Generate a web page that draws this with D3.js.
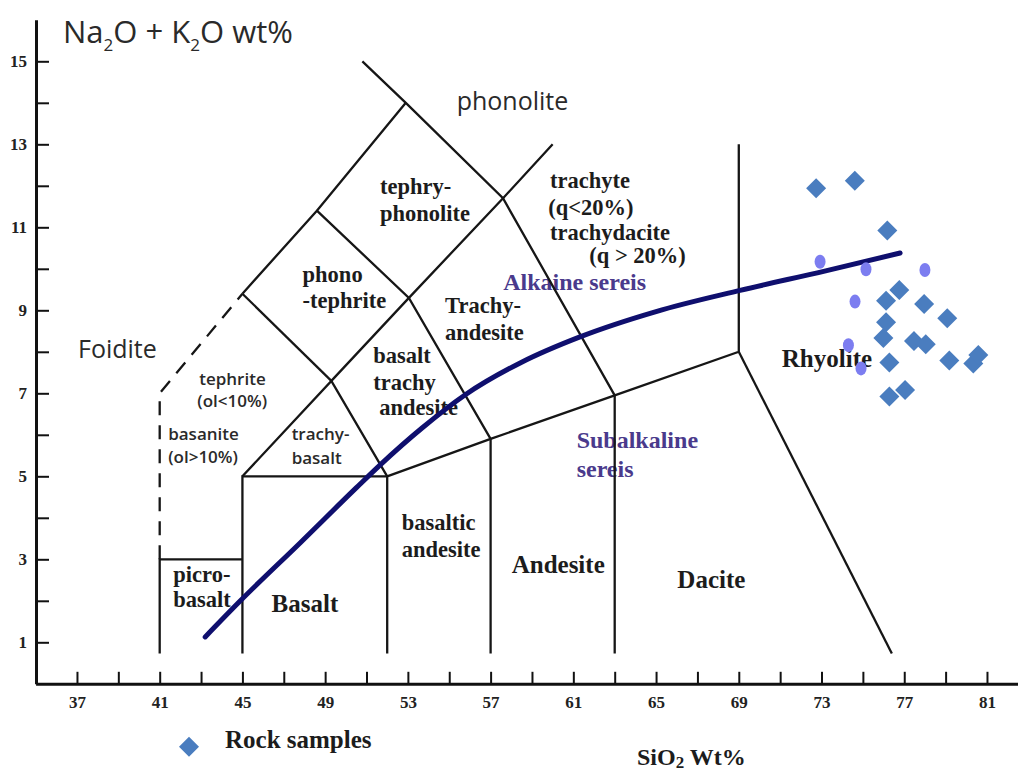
<!DOCTYPE html>
<html>
<head>
<meta charset="utf-8">
<script src="https://cdn.jsdelivr.net/npm/d3@7"></script>
<style>
  html, body { margin: 0; padding: 0; background: #ffffff; }
  svg { display: block; }
  .serif { font-family: "Liberation Serif", "Times New Roman", serif; font-weight: bold; fill: #1c1c1c; }
  .sans { font-family: "Open Sans", "Liberation Sans", sans-serif; fill: #2a2a2a; }
</style>
</head>
<body>
<svg id="chart" width="1018" height="772"></svg>
<script>
// ---------------- data ----------------
const xTickValues = [37,39,41,43,45,47,49,51,53,55,57,59,61,63,65,67,69,71,73,75,77,79,81];
const xTickLabels = [37,41,45,49,53,57,61,65,69,73,77,81];
const yTickValues = [1,2,3,4,5,6,7,8,9,10,11,12,13,14,15];
const yTickLabels = [1,3,5,7,9,11,13,15];

// rock samples (SiO2 wt%, Na2O+K2O wt%)
const sampleSiO2 = [72.74,74.61,76.18,76.76,76.12,77.96,79.08,76.12,75.99,77.47,78.04,79.18,76.28,80.34,80.58,76.28,77.04];
const sampleAlk  = [11.94,12.12,10.92, 9.49, 9.23, 9.15, 8.81, 8.71, 8.33, 8.26, 8.18, 7.79, 7.74, 7.72, 7.92, 6.92, 7.08];

// faint lavender marks visible in the picture
const faintSiO2 = [72.93,75.15,78.00,74.62,74.30,74.91];
const faintAlk  = [10.17, 9.99, 9.97, 9.21, 8.16, 7.60];

// alkaline / subalkaline dividing curve
const curveSiO2 = [43.2,44.9,47.8,50.5,51.65,53.7,55.76,58.5,61.32,65.0,69.06,73.2,76.8];
const curveAlk  = [1.13,2.00,3.40,4.72,5.27, 6.17,6.96, 7.75,8.36, 8.97,9.48, 9.95,10.38];

// TAS field boundaries (SiO2, alkali)
const solidBoundaries = [
  [[41,0.73],[41,3],[45,3]],
  [[45,0.73],[45,5],[52,5]],
  [[52,0.73],[52,5],[57,5.9],[63,6.95],[69,8],[69,13]],
  [[57,0.73],[57,5.9]],
  [[63,0.73],[63,6.95]],
  [[69,8],[76.4,0.73]],
  [[45,5],[49.3,7.3],[52,5]],
  [[45,9.4],[48.6,11.4],[52.9,14]],
  [[50.8,15],[52.9,14],[57.6,11.7],[63,6.95]],
  [[45,9.4],[49.3,7.3]],
  [[49.3,7.3],[53.05,9.3],[57.6,11.7],[60,13]],
  [[48.6,11.4],[53.05,9.3],[57,5.9]]
];
const dashedBoundary = [[41,3],[41,7],[45,9.4]];

// field names (text, SiO2, alkali)
const smallSerifLabels = [
  ["tephry-",51.65,11.8],["phonolite",51.65,11.16],
  ["phono",47.91,9.69],["-tephrite",47.91,9.05],
  ["basalt",51.33,7.72],["trachy",51.33,7.08],["andesite",51.62,6.48],
  ["trachyte",59.87,11.94],["(q<20%)",59.79,11.30],["trachydacite",59.87,10.69],["(q > 20%)",61.77,10.15],
  ["Trachy-",54.80,8.93],["andesite",54.80,8.28],
  ["picro-",41.66,2.46],["basalt",41.66,1.86],
  ["basaltic",52.70,3.71],["andesite",52.70,3.06]
];
const bigSerifLabels = [
  ["Basalt",46.41,1.74],["Andesite",58.02,2.66],["Dacite",66.03,2.30],["Rhyolite",71.08,7.64]
];
const seriesLabels = [
  ["Alkaine sereis",57.61,9.49],["Subalkaline",61.16,5.67],["sereis",61.16,4.99]
];
const sansSmallLabels = [
  ["tephrite",42.91,7.20],["(ol<10%)",42.82,6.68],
  ["basanite",41.41,5.87],["(ol>10%)",41.41,5.31],
  ["trachy-",47.38,5.87],["basalt",47.38,5.29]
];
const sansBigLabels = [
  ["phonolite",55.36,13.83],["Foidite",37.05,7.85]
];

// ---------------- chart ----------------
const svg = d3.select("#chart");
const x = d3.scaleLinear().domain([35, 82.5]).range([35.6, 1018]);
const y = d3.scaleLinear().domain([0, 16]).range([683.8, 19.8]);

// labels (under lines)
function addLabels(arr, cls, size, fill, weight) {
  svg.append("g").selectAll("text").data(arr).join("text")
    .attr("class", cls)
    .attr("x", d => x(d[1])).attr("y", d => y(d[2]))
    .attr("font-size", size)
    .attr("font-weight", weight || null)
    .style("fill", fill || null)
    .text(d => d[0]);
}
addLabels(smallSerifLabels, "serif", 22.5);
addLabels(bigSerifLabels, "serif", 25);
addLabels(seriesLabels, "serif", 24, "#4a3a8c");
addLabels(sansSmallLabels, "sans", 17, null, 600);
addLabels(sansBigLabels, "sans", 25);

// boundaries
const line = d3.line().x(d => x(d[0])).y(d => y(d[1]));
svg.append("g").selectAll("path").data(solidBoundaries).join("path")
  .attr("d", line).attr("fill", "none").attr("stroke", "#161616")
  .attr("stroke-width", 2.3).attr("stroke-linejoin", "miter");
svg.append("path").attr("d", line(dashedBoundary))
  .attr("fill", "none").attr("stroke", "#161616").attr("stroke-width", 2.3)
  .attr("stroke-dasharray", "14,10");

// alkaline curve
const curvePts = curveSiO2.map((v, i) => [v, curveAlk[i]]);
svg.append("path")
  .attr("d", d3.line().x(d => x(d[0])).y(d => y(d[1])).curve(d3.curveMonotoneX)(curvePts))
  .attr("fill", "none").attr("stroke", "#0f0f6e").attr("stroke-width", 5)
  .attr("stroke-linecap", "round");

// axes
const xAxis = d3.axisBottom(x).tickValues(xTickValues)
  .tickFormat(d => xTickLabels.includes(d) ? d : "")
  .tickSizeInner(-12).tickSizeOuter(0).tickPadding(12);
const gx = svg.append("g").attr("transform", `translate(0,${y(0)})`).call(xAxis);
const yAxis = d3.axisLeft(y).tickValues(yTickValues)
  .tickFormat(d => yTickLabels.includes(d) ? d : "")
  .tickSizeInner(-13).tickSizeOuter(0).tickPadding(9);
const gy = svg.append("g").attr("transform", `translate(${x(35) + 0.4},0)`).call(yAxis);
[gx, gy].forEach(g => {
  g.select(".domain").attr("stroke", "#111").attr("stroke-width", 3);
  g.selectAll(".tick line").attr("stroke", "#111").attr("stroke-width", 2);
  g.selectAll(".tick text").attr("fill", "#222")
    .attr("font-family", "'Liberation Serif', serif").attr("font-weight", "bold")
    .attr("font-size", 17);
});

// faint marks
svg.append("g").selectAll("ellipse").data(faintSiO2).join("ellipse")
  .attr("cx", (d) => x(d)).attr("cy", (d, i) => y(faintAlk[i]))
  .attr("rx", 5.5).attr("ry", 7).attr("fill", "#7c7df0");

// samples
const diamondType = d3.symbolDiamond2 || d3.symbolDiamond;
const sym = d3.symbol().type(diamondType).size(255);
svg.append("g").selectAll("path").data(sampleSiO2).join("path")
  .attr("transform", (d, i) => `translate(${x(d)},${y(sampleAlk[i])})`)
  .attr("d", sym).attr("fill", "#4a7dbf");

// title
const title = svg.append("text").attr("class", "sans").attr("x", 63).attr("y", 43)
  .attr("font-size", 31).style("fill", "#2a2a2a");
title.append("tspan").text("Na");
title.append("tspan").attr("font-size", 17).attr("dy", 8).text("2");
title.append("tspan").attr("dy", -8).text("O + K");
title.append("tspan").attr("font-size", 17).attr("dy", 8).text("2");
title.append("tspan").attr("dy", -8).text("O wt%");

// legend
svg.append("path").attr("transform", "translate(189,746.7)").attr("d", sym).attr("fill", "#4a7dbf");
svg.append("text").attr("class", "serif").attr("x", 225).attr("y", 748)
  .attr("font-size", 25).text("Rock samples");

// x axis title
const xt = svg.append("text").attr("class", "serif").attr("x", 637).attr("y", 765).attr("font-size", 24);
xt.append("tspan").text("SiO");
xt.append("tspan").attr("font-size", 17).attr("dy", 3).text("2");
xt.append("tspan").attr("dy", -3).text(" Wt%");
</script>
</body>
</html>
